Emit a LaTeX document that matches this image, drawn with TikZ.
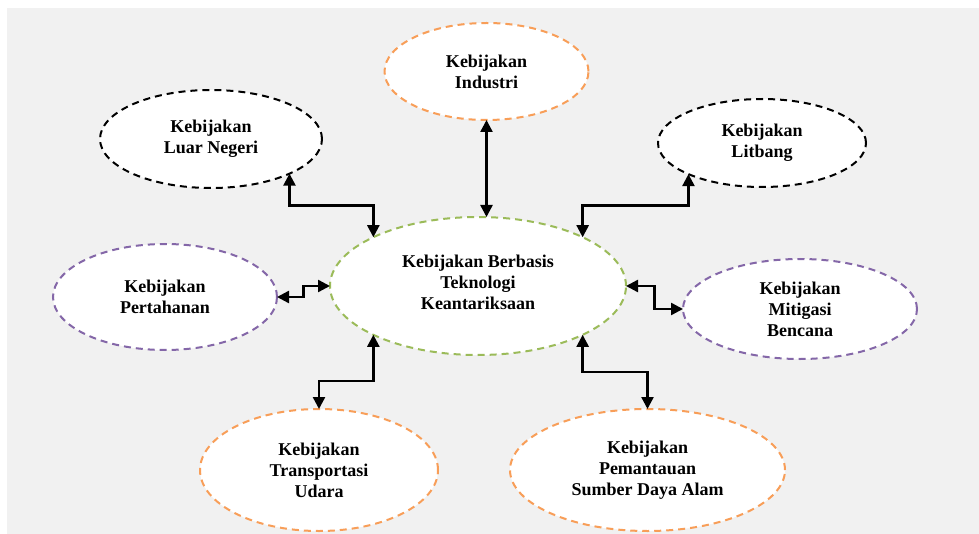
\documentclass[tikz,border=0pt]{standalone}
\usepackage{fontspec}
\setmainfont{Liberation Serif}
\usetikzlibrary{shapes.geometric,arrows.meta,calc}
\definecolor{latar}{HTML}{F1F1F1}
\definecolor{oranye}{HTML}{F89E58}
\definecolor{ungu}{HTML}{8467A8}
\definecolor{hijau}{HTML}{9BBB59}
\tikzset{
  kebijakan/.style={ellipse, draw, dash pattern=on 3.5pt off 2.5pt, line width=1pt,
    fill=white, align=center, inner sep=0pt, outer sep=0pt,
    font=\bfseries\fontsize{9}{10.5}\selectfont},
  panah/.style={{Triangle[length=6pt,width=6pt]}-{Triangle[length=6pt,width=6pt]}, line width=1.2pt},
}
\begin{document}
\begin{tikzpicture}[x=0.5pt,y=-0.5pt]
    \fill[white] (0,0) rectangle (979,534);
    \fill[latar] (7,8) rectangle (979,534);
    % lingkaran kebijakan
    \node[kebijakan, draw=hijau, minimum width=148pt, minimum height=69pt] (pusat) at (478,286) {Kebijakan Berbasis\\Teknologi\\Keantariksaan\\[-7pt]};
    \node[kebijakan, draw=oranye, minimum width=102pt, minimum height=48.5pt] (industri) at (486.5,71.5) {Kebijakan\\Industri};
    \node[kebijakan, draw=black, minimum width=111pt, minimum height=49pt] (luar) at (211,139) {Kebijakan\\Luar Negeri};
    \node[kebijakan, draw=black, minimum width=104pt, minimum height=44pt] (litbang) at (762,143) {Kebijakan\\Litbang};
    \node[kebijakan, draw=ungu, minimum width=112pt, minimum height=53pt] (pertahanan) at (165,297) {Kebijakan\\Pertahanan};
    \node[kebijakan, draw=ungu, minimum width=117pt, minimum height=50pt] (mitigasi) at (800,309) {Kebijakan\\Mitigasi\\Bencana};
    \node[kebijakan, draw=oranye, minimum width=119pt, minimum height=61pt] (transport) at (319,470) {Kebijakan\\Transportasi\\Udara};
    \node[kebijakan, draw=oranye, minimum width=137.5pt, minimum height=61pt] (pantau) at (647.5,470) {Kebijakan\\Pemantauan\\Sumber Daya Alam};
    % panah
    \draw[panah] (industri.south) -- (industri.south |- pusat.north);
    \draw[panah] (luar.south east) |- ($(luar.south east)!0.5!(pusat.north west)$) -| (pusat.north west);
    \draw[panah] (litbang.south west) |- ($(litbang.south west)!0.5!(pusat.north east)$) -| (pusat.north east);
    \draw[panah] (pertahanan.east) -| ($(pertahanan.east)!0.5!(pusat.west)$) |- (pusat.west);
    \draw[panah] (pusat.east) -| ($(pusat.east)!0.5!(mitigasi.west)$) |- (mitigasi.west);
    \draw[panah] (pusat.south west) |- ($(pusat.south west)!0.62!(transport.north)$) -| (transport.north);
    \draw[panah] (pusat.south east) |- ($(pusat.south east)!0.5!(pantau.north)$) -| (pantau.north);
\end{tikzpicture}
\end{document}
